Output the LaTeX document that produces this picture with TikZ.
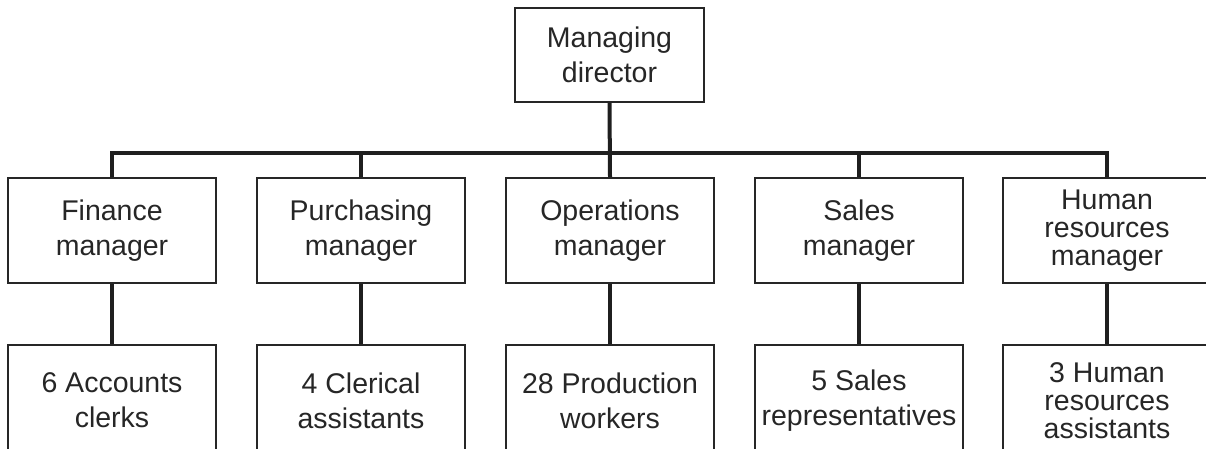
\documentclass[tikz,border=0pt]{standalone}
\usepackage{fontspec}
\setmainfont{Liberation Sans}
\begin{document}
\begin{tikzpicture}[x=1pt,y=1pt,
  box/.style={draw=black!85, line width=1.8pt, inner sep=0pt, align=center,
    minimum width=208pt, minimum height=105pt,
    font=\fontsize{28.5}{35}\selectfont, text=black!85},
  lowbox/.style={box, minimum height=111pt},
  tight/.style={font=\fontsize{28.5}{28}\selectfont},
  link/.style={draw=black!88, line width=4pt}]
\useasboundingbox (0,0) rectangle (1206,448);
\clip (0,0) rectangle (1206,448);
\node[box, minimum width=189pt, minimum height=94pt] (md) at (609.5,393) {Managing\\director};
\node[box] (fin) at (112,217.5) {Finance\\manager};
\node[box] (pur) at (361,217.5) {Purchasing\\manager};
\node[box] (ops) at (610,217.5) {Operations\\manager};
\node[box] (sal) at (859,217.5) {Sales\\manager};
\node[box, tight] (hrm) at (1107,217.5) {Human\\resources\\manager};
\node[lowbox] (acc) at (112,47.5) {6 Accounts\\clerks};
\node[lowbox] (cle) at (361,47.5) {4 Clerical\\assistants};
\node[lowbox] (pro) at (610,47.5) {28 Production\\workers};
\node[lowbox] (rep) at (859,47.5) {5 Sales\\representatives};
\node[lowbox, tight] (hra) at (1107,47.5) {3 Human\\resources\\assistants};
\coordinate (bus) at (610,295);
\draw[link] (md.south) -- (ops.north);
\draw[link] (fin.north) |- (bus) -| (hrm.north);
\draw[link] (pur.north) -- (pur.north |- bus);
\draw[link] (sal.north) -- (sal.north |- bus);
\draw[link] (fin.south) -- (acc.north);
\draw[link] (pur.south) -- (cle.north);
\draw[link] (ops.south) -- (pro.north);
\draw[link] (sal.south) -- (rep.north);
\draw[link] (hrm.south) -- (hra.north);
\end{tikzpicture}
\end{document}
